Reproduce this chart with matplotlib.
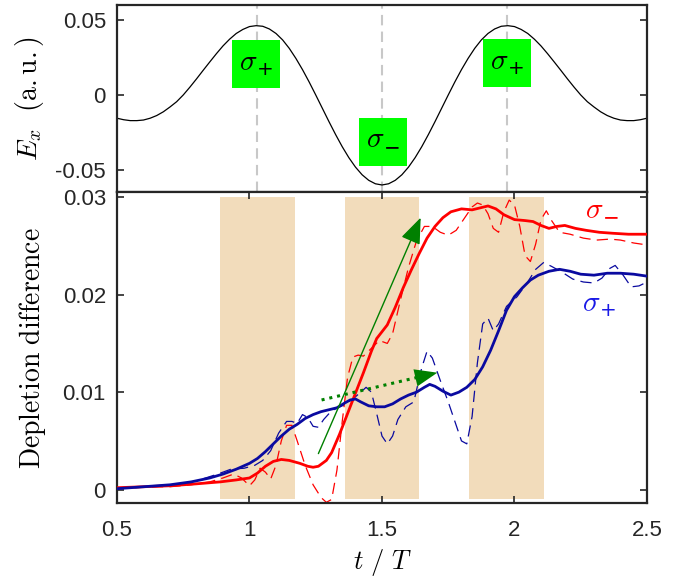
import matplotlib
matplotlib.use('Agg')
import matplotlib.pyplot as plt
from matplotlib.patches import Rectangle
import numpy as np

plt.rcParams['mathtext.fontset'] = 'cm'
plt.rcParams['font.family'] = ['Liberation Sans', 'DejaVu Sans']

# ---- top panel: driving field ----
t_field = np.linspace(0.5, 2.5, 81)
E_x = [-0.0155, -0.0165, -0.0171, -0.0171, -0.0167, -0.0155, -0.0137, -0.0112, -0.0080, -0.0045,
       0.0000, 0.0052, 0.0107, 0.0164, 0.0220, 0.0275, 0.0327, 0.0372, 0.0410, 0.0437,
       0.0456, 0.0462, 0.0458, 0.0440, 0.0410, 0.0367, 0.0311, 0.0244, 0.0169, 0.0087,
       0.0000, -0.0089, -0.0178, -0.0264, -0.0345, -0.0418, -0.0481, -0.0532, -0.0569, -0.0592,
       -0.0600,
       -0.0592, -0.0569, -0.0532, -0.0481, -0.0418, -0.0345, -0.0264, -0.0178, -0.0089, 0.0000,
       0.0087, 0.0169, 0.0244, 0.0311, 0.0367, 0.0410, 0.0440, 0.0458, 0.0462, 0.0456,
       0.0437, 0.0410, 0.0372, 0.0327, 0.0275, 0.0220, 0.0164, 0.0107, 0.0052, 0.0000,
       -0.0045, -0.0080, -0.0112, -0.0137, -0.0155, -0.0167, -0.0171, -0.0171, -0.0165, -0.0155]
peak_times = [1.03, 1.50, 1.97]
box_t0 = [0.935, 1.415, 1.883]
box_v0 = [0.0047, -0.0471, 0.0053]
box_w = 0.18
box_h = 0.032
box_signs = ['+', '-', '+']

# ---- bottom panel: depletion difference ----
band_start = [0.89, 1.36, 1.83]
band_end = [1.17, 1.64, 2.11]

t_red = [0.50, 0.60, 0.70, 0.80, 0.89, 0.95, 1.00, 1.03, 1.06, 1.09, 1.12, 1.15, 1.19, 1.22, 1.24,
         1.26, 1.29, 1.31, 1.34, 1.37, 1.40, 1.43, 1.46, 1.48, 1.50, 1.52, 1.55, 1.58, 1.61, 1.64,
         1.67, 1.70, 1.73, 1.76, 1.80, 1.84, 1.87, 1.90, 1.93, 1.96, 2.00, 2.04, 2.07, 2.10, 2.13,
         2.16, 2.19, 2.23, 2.27, 2.32, 2.37, 2.43, 2.50]
red = [0.0002, 0.0003, 0.0004, 0.0006, 0.0008, 0.0010, 0.0012, 0.0017, 0.0024, 0.0029, 0.0031,
       0.0030, 0.0027, 0.0024, 0.0023, 0.0024, 0.0030, 0.0038, 0.0057, 0.0078, 0.0099, 0.0120,
       0.0142, 0.0155, 0.0162, 0.0169, 0.0187, 0.0207, 0.0225, 0.0242, 0.0258, 0.0270, 0.0279,
       0.0285, 0.0288, 0.0287, 0.0289, 0.0291, 0.0288, 0.0282, 0.0277, 0.0276, 0.0275, 0.0271,
       0.0268, 0.0270, 0.0271, 0.0268, 0.0266, 0.0264, 0.0263, 0.0262, 0.0262]

t_blue = [0.50, 0.60, 0.70, 0.78, 0.85, 0.90, 0.95, 1.00, 1.03, 1.06, 1.09, 1.12, 1.15, 1.18, 1.21,
          1.24, 1.27, 1.30, 1.33, 1.36, 1.38, 1.40, 1.42, 1.45, 1.48, 1.51, 1.54, 1.57, 1.60, 1.63,
          1.66, 1.68, 1.70, 1.73, 1.76, 1.79, 1.82, 1.85, 1.88, 1.91, 1.94, 1.97, 2.00, 2.03, 2.06,
          2.09, 2.13, 2.17, 2.21, 2.25, 2.30, 2.35, 2.40, 2.45, 2.50]
blue = [0.0001, 0.0003, 0.0005, 0.0008, 0.0012, 0.0016, 0.0021, 0.0027, 0.0032, 0.0039, 0.0047,
        0.0055, 0.0062, 0.0067, 0.0073, 0.0077, 0.0080, 0.0082, 0.0084, 0.0089, 0.0092, 0.0093,
        0.0090, 0.0086, 0.0085, 0.0085, 0.0088, 0.0093, 0.0097, 0.0100, 0.0105, 0.0108, 0.0106,
        0.0101, 0.0097, 0.0100, 0.0105, 0.0113, 0.0126, 0.0143, 0.0163, 0.0184, 0.0198, 0.0207,
        0.0215, 0.0220, 0.0224, 0.0226, 0.0224, 0.0221, 0.0220, 0.0222, 0.0222, 0.0221, 0.0219]

t_red_d = [0.50, 0.60, 0.70, 0.78, 0.85, 0.90, 0.94, 0.97, 1.00, 1.02, 1.04, 1.06, 1.08, 1.10, 1.12,
           1.14, 1.16, 1.18, 1.21, 1.24, 1.27, 1.29, 1.31, 1.33, 1.35, 1.37, 1.39, 1.41, 1.43, 1.46,
           1.49, 1.52, 1.54, 1.57, 1.60, 1.63, 1.66, 1.69, 1.72, 1.75, 1.78, 1.81, 1.84, 1.86, 1.88,
           1.90, 1.92, 1.94, 1.96, 1.98, 2.00, 2.02, 2.04, 2.06, 2.08, 2.10, 2.12, 2.14, 2.17, 2.21,
           2.26, 2.31, 2.36, 2.40, 2.45, 2.50]
red_d = [0.0002, 0.0003, 0.0003, 0.0005, 0.0008, 0.0012, 0.0016, 0.0012, 0.0004, 0.0010, 0.0022,
         0.0018, 0.0011, 0.0025, 0.0050, 0.0066, 0.0066, 0.0050, 0.0025, 0.0005, -0.0008, -0.0013,
         -0.0010, 0.0020, 0.0070, 0.0115, 0.0136, 0.0138, 0.0137, 0.0145, 0.0153, 0.0150, 0.0160,
         0.0195, 0.0228, 0.0255, 0.0270, 0.0270, 0.0264, 0.0261, 0.0266, 0.0278, 0.0290, 0.0294,
         0.0292, 0.0283, 0.0268, 0.0264, 0.0285, 0.0297, 0.0292, 0.0270, 0.0240, 0.0234, 0.0252,
         0.0277, 0.0286, 0.0276, 0.0264, 0.0262, 0.0258, 0.0256, 0.0257, 0.0256, 0.0253, 0.0251]

t_blue_d = [0.50, 0.70, 0.80, 0.88, 0.93, 0.98, 1.02, 1.05, 1.08, 1.11, 1.14, 1.16, 1.18, 1.20, 1.22,
            1.24, 1.26, 1.28, 1.31, 1.35, 1.39, 1.42, 1.44, 1.46, 1.48, 1.50, 1.52, 1.54, 1.56, 1.59,
            1.62, 1.65, 1.67, 1.69, 1.72, 1.75, 1.78, 1.80, 1.82, 1.84, 1.86, 1.88, 1.90, 1.92, 1.94,
            1.97, 2.01, 2.05, 2.08, 2.11, 2.14, 2.18, 2.22, 2.26, 2.30, 2.33, 2.36, 2.38, 2.41, 2.44,
            2.47, 2.50]
blue_d = [0.0001, 0.0004, 0.0009, 0.0016, 0.0021, 0.0022, 0.0025, 0.0030, 0.0040, 0.0058, 0.0070,
          0.0070, 0.0068, 0.0077, 0.0074, 0.0065, 0.0064, 0.0072, 0.0081, 0.0086, 0.0093, 0.0100,
          0.0105, 0.0100, 0.0078, 0.0055, 0.0047, 0.0055, 0.0072, 0.0085, 0.0090, 0.0125, 0.0142,
          0.0135, 0.0112, 0.0090, 0.0066, 0.0050, 0.0047, 0.0075, 0.0130, 0.0170, 0.0176, 0.0163,
          0.0170, 0.0188, 0.0198, 0.0213, 0.0226, 0.0233, 0.0229, 0.0223, 0.0216, 0.0213, 0.0212,
          0.0217, 0.0227, 0.0230, 0.0220, 0.0208, 0.0209, 0.0213]

arrow_solid = [(1.260, 0.0037), (1.646, 0.0279)]
arrow_dotted = [(1.272, 0.0092), (1.709, 0.0120)]

ink = '#262626'
c_red = '#ff0000'
c_blue = '#0a0aa0'
c_green = '#008000'


def sigma_label(ax, x, y, sign, color='k', size=21):
    # sigma in CM italic, the subscript sign drawn as its own small text
    ax.annotate(r'$\sigma$', xy=(x, y), xytext=(-5.5, 1.5), textcoords='offset points',
                ha='center', va='center', fontsize=size, color=color, zorder=6)
    sub = '+' if sign == '+' else '\u2212'
    ax.annotate(sub, xy=(x, y), xytext=(6.5, -4.0), textcoords='offset points',
                ha='center', va='center', fontsize=size * 0.68, color=color,
                family=['DejaVu Sans'], zorder=6)


fig = plt.figure(figsize=(6.85, 5.78), dpi=100)
ax1 = fig.add_axes([0.1708, 0.6670, 0.7737, 0.3244])
ax2 = fig.add_axes([0.1708, 0.1292, 0.7737, 0.5381])

# top panel
for tp in peak_times:
    ax1.axvline(tp, color='#c8c8c8', lw=1.5, ls=(0, (5, 3)), zorder=1)
ax1.plot(t_field, E_x, color='k', lw=0.9, zorder=2)
for t0, v0, sg in zip(box_t0, box_v0, box_signs):
    ax1.add_patch(Rectangle((t0, v0), box_w, box_h, facecolor='#00ff00', edgecolor='none', zorder=3))
    sigma_label(ax1, t0 + box_w / 2, v0 + box_h / 2, sg)
ax1.set_xlim(0.5, 2.5)
ax1.set_ylim(-0.065, 0.06)
ax1.set_xticks([])
ax1.set_yticks([-0.05, 0, 0.05])
ax1.set_yticklabels(['-0.05', '0', '0.05'])
ax1.set_ylabel(r'$E_x\ \ \mathrm{(a.u.)}$', fontsize=20, va='center')
ax1.yaxis.set_label_coords(-0.165, 0.5)

# bottom panel
for a, b in zip(band_start, band_end):
    ax2.fill_between([a, b], -0.001, 0.030, color='#f2dcbb', lw=0, zorder=0)
ax2.plot(t_red_d, red_d, color=c_red, lw=0.9, dashes=(9, 5), zorder=2)
ax2.plot(t_blue_d, blue_d, color=c_blue, lw=0.9, dashes=(9, 5), zorder=2)
ax2.plot(t_red, red, color=c_red, lw=2.0, zorder=3)
ax2.plot(t_blue, blue, color=c_blue, lw=2.0, zorder=3)

ax2.annotate('', xy=arrow_solid[1], xytext=arrow_solid[0],
             arrowprops=dict(arrowstyle='-|>,head_length=0.9,head_width=0.35', color=c_green,
                             lw=1.0, mutation_scale=18, shrinkA=0, shrinkB=0), zorder=5)
ax2.plot([arrow_dotted[0][0], arrow_dotted[1][0]], [arrow_dotted[0][1], arrow_dotted[1][1]],
         color=c_green, lw=2.2, ls=(0, (1, 1.6)), zorder=5)
ax2.annotate('', xy=arrow_dotted[1], xytext=arrow_dotted[0],
             arrowprops=dict(arrowstyle='-|>,head_length=0.9,head_width=0.35', color=c_green,
                             lw=0, mutation_scale=18, shrinkA=0, shrinkB=0), zorder=5)

sigma_label(ax2, 2.33, 0.0285, '-', color=c_red)
sigma_label(ax2, 2.32, 0.0189, '+', color='#1a1ae6')

ax2.set_xlim(0.5, 2.5)
ax2.set_ylim(-0.0014, 0.0305)
ax2.set_xticks([0.5, 1, 1.5, 2, 2.5])
ax2.set_xticklabels(['0.5', '1', '1.5', '2', '2.5'])
ax2.set_yticks([0, 0.01, 0.02, 0.03])
ax2.set_yticklabels(['0', '0.01', '0.02', '0.03'])
ax2.set_xlabel(r'$t\ /\ T$', fontsize=19, va='center')
ax2.xaxis.set_label_coords(0.5, -0.19)
ax2.set_ylabel(r'$\mathrm{Depletion\ difference}$', fontsize=20, va='center')
ax2.yaxis.set_label_coords(-0.16, 0.5)

for ax in (ax1, ax2):
    ax.tick_params(direction='in', length=5, width=1.2, top=True, right=True,
                   labelsize=16, colors=ink, pad=8)
    ax.tick_params(axis='x', pad=12)
    for s in ax.spines.values():
        s.set_linewidth(1.6)
        s.set_color(ink)

fig.savefig('out.png', dpi=100)
